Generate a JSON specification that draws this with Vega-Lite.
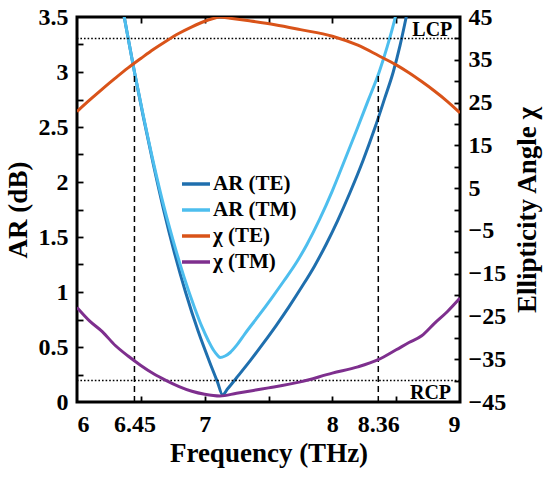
{
  "$schema": "https://vega.github.io/schema/vega-lite/v6.json",
  "width": 383,
  "height": 385,
  "autosize": {"type": "none"},
  "padding": {"left": 77, "top": 17, "right": 90, "bottom": 77},
  "background": "white",
  "config": {
    "view": {"stroke": "black", "strokeWidth": 3},
    "font": "Liberation Serif",
    "axis": {
      "domain": false, "grid": false,
      "labelFont": "Liberation Serif", "labelFontSize": 24, "labelFontWeight": "bold", "labelColor": "black",
      "titleFont": "Liberation Serif", "titleFontSize": 27, "titleFontWeight": "bold", "titleColor": "black",
      "tickColor": "black", "tickWidth": 1.8
    },
    "legend": {
      "orient": "none", "legendX": 103, "legendY": 151, "padding": 0,
      "symbolType": "stroke", "symbolStrokeWidth": 3.5, "symbolSize": 784,
      "labelFont": "Liberation Serif", "labelFontSize": 21, "labelFontWeight": "bold", "labelColor": "black",
      "rowPadding": 0, "labelOffset": 1
    }
  },
  "datasets": {
    "ar": [
      {"f": 6.33, "v": 3.75, "s": "AR (TE)"}, {"f": 6.37, "v": 3.5, "s": "AR (TE)"}, {"f": 6.45, "v": 3.0, "s": "AR (TE)"},
      {"f": 6.52, "v": 2.59, "s": "AR (TE)"}, {"f": 6.6, "v": 2.15, "s": "AR (TE)"}, {"f": 6.68, "v": 1.74, "s": "AR (TE)"},
      {"f": 6.76, "v": 1.37, "s": "AR (TE)"}, {"f": 6.85, "v": 1.0, "s": "AR (TE)"}, {"f": 6.95, "v": 0.64, "s": "AR (TE)"},
      {"f": 7.05, "v": 0.33, "s": "AR (TE)"}, {"f": 7.1, "v": 0.183, "s": "AR (TE)"}, {"f": 7.14, "v": 0.065, "s": "AR (TE)"},
      {"f": 7.18, "v": 0.12, "s": "AR (TE)"}, {"f": 7.25, "v": 0.22, "s": "AR (TE)"}, {"f": 7.36, "v": 0.38, "s": "AR (TE)"},
      {"f": 7.46, "v": 0.535, "s": "AR (TE)"}, {"f": 7.56, "v": 0.695, "s": "AR (TE)"}, {"f": 7.66, "v": 0.865, "s": "AR (TE)"},
      {"f": 7.76, "v": 1.045, "s": "AR (TE)"}, {"f": 7.86, "v": 1.235, "s": "AR (TE)"}, {"f": 7.95, "v": 1.43, "s": "AR (TE)"},
      {"f": 8.04, "v": 1.645, "s": "AR (TE)"}, {"f": 8.137, "v": 1.9, "s": "AR (TE)"}, {"f": 8.242, "v": 2.2, "s": "AR (TE)"},
      {"f": 8.333, "v": 2.49, "s": "AR (TE)"}, {"f": 8.41, "v": 2.76, "s": "AR (TE)"}, {"f": 8.477, "v": 3.0, "s": "AR (TE)"},
      {"f": 8.53, "v": 3.24, "s": "AR (TE)"}, {"f": 8.575, "v": 3.48, "s": "AR (TE)"}, {"f": 8.63, "v": 3.8, "s": "AR (TE)"},
      {"f": 6.33, "v": 3.75, "s": "AR (TM)"}, {"f": 6.37, "v": 3.5, "s": "AR (TM)"}, {"f": 6.45, "v": 3.0, "s": "AR (TM)"},
      {"f": 6.52, "v": 2.6, "s": "AR (TM)"}, {"f": 6.6, "v": 2.17, "s": "AR (TM)"}, {"f": 6.68, "v": 1.78, "s": "AR (TM)"},
      {"f": 6.76, "v": 1.44, "s": "AR (TM)"}, {"f": 6.84, "v": 1.13, "s": "AR (TM)"}, {"f": 6.92, "v": 0.86, "s": "AR (TM)"},
      {"f": 6.98, "v": 0.68, "s": "AR (TM)"}, {"f": 7.03, "v": 0.555, "s": "AR (TM)"}, {"f": 7.07, "v": 0.47, "s": "AR (TM)"},
      {"f": 7.1, "v": 0.425, "s": "AR (TM)"}, {"f": 7.12, "v": 0.405, "s": "AR (TM)"}, {"f": 7.16, "v": 0.418, "s": "AR (TM)"},
      {"f": 7.2, "v": 0.45, "s": "AR (TM)"}, {"f": 7.25, "v": 0.515, "s": "AR (TM)"}, {"f": 7.315, "v": 0.62, "s": "AR (TM)"},
      {"f": 7.42, "v": 0.78, "s": "AR (TM)"}, {"f": 7.525, "v": 0.945, "s": "AR (TM)"}, {"f": 7.62, "v": 1.1, "s": "AR (TM)"},
      {"f": 7.72, "v": 1.27, "s": "AR (TM)"}, {"f": 7.8, "v": 1.43, "s": "AR (TM)"}, {"f": 7.9, "v": 1.66, "s": "AR (TM)"},
      {"f": 8.0, "v": 1.92, "s": "AR (TM)"}, {"f": 8.07, "v": 2.12, "s": "AR (TM)"}, {"f": 8.19, "v": 2.47, "s": "AR (TM)"},
      {"f": 8.28, "v": 2.74, "s": "AR (TM)"}, {"f": 8.367, "v": 3.0, "s": "AR (TM)"}, {"f": 8.43, "v": 3.23, "s": "AR (TM)"},
      {"f": 8.485, "v": 3.46, "s": "AR (TM)"}, {"f": 8.55, "v": 3.8, "s": "AR (TM)"}
    ],
    "chi": [
      {"f": 6.0, "v": 22.9, "s": "χ (TE)"}, {"f": 6.1, "v": 25.6, "s": "χ (TE)"}, {"f": 6.2, "v": 28.2, "s": "χ (TE)"},
      {"f": 6.3, "v": 30.7, "s": "χ (TE)"}, {"f": 6.4, "v": 33.1, "s": "χ (TE)"}, {"f": 6.5, "v": 35.3, "s": "χ (TE)"},
      {"f": 6.6, "v": 37.45, "s": "χ (TE)"}, {"f": 6.7, "v": 39.4, "s": "χ (TE)"}, {"f": 6.8, "v": 41.2, "s": "χ (TE)"},
      {"f": 6.9, "v": 42.7, "s": "χ (TE)"}, {"f": 7.0, "v": 44.0, "s": "χ (TE)"}, {"f": 7.06, "v": 44.6, "s": "χ (TE)"},
      {"f": 7.12, "v": 45.0, "s": "χ (TE)"}, {"f": 7.2, "v": 44.7, "s": "χ (TE)"}, {"f": 7.35, "v": 44.1, "s": "χ (TE)"},
      {"f": 7.55, "v": 43.2, "s": "χ (TE)"}, {"f": 7.75, "v": 42.05, "s": "χ (TE)"}, {"f": 8.0, "v": 40.5, "s": "χ (TE)"},
      {"f": 8.2, "v": 38.4, "s": "χ (TE)"}, {"f": 8.36, "v": 36.0, "s": "χ (TE)"}, {"f": 8.5, "v": 33.8, "s": "χ (TE)"},
      {"f": 8.6, "v": 31.96, "s": "χ (TE)"}, {"f": 8.7, "v": 29.9, "s": "χ (TE)"}, {"f": 8.8, "v": 27.7, "s": "χ (TE)"},
      {"f": 8.9, "v": 25.3, "s": "χ (TE)"}, {"f": 9.0, "v": 22.6, "s": "χ (TE)"},
      {"f": 6.0, "v": -22.9, "s": "χ (TM)"}, {"f": 6.1, "v": -26.1, "s": "χ (TM)"}, {"f": 6.2, "v": -28.6, "s": "χ (TM)"},
      {"f": 6.3, "v": -31.8, "s": "χ (TM)"}, {"f": 6.4, "v": -34.25, "s": "χ (TM)"}, {"f": 6.5, "v": -36.45, "s": "χ (TM)"},
      {"f": 6.6, "v": -38.4, "s": "χ (TM)"}, {"f": 6.7, "v": -40.0, "s": "χ (TM)"}, {"f": 6.8, "v": -41.4, "s": "χ (TM)"},
      {"f": 6.9, "v": -42.5, "s": "χ (TM)"}, {"f": 7.0, "v": -43.2, "s": "χ (TM)"}, {"f": 7.12, "v": -43.6, "s": "χ (TM)"},
      {"f": 7.25, "v": -42.95, "s": "χ (TM)"}, {"f": 7.4, "v": -42.2, "s": "χ (TM)"}, {"f": 7.5, "v": -41.7, "s": "χ (TM)"},
      {"f": 7.75, "v": -40.3, "s": "χ (TM)"}, {"f": 8.0, "v": -38.25, "s": "χ (TM)"}, {"f": 8.2, "v": -36.8, "s": "χ (TM)"},
      {"f": 8.36, "v": -35.1, "s": "χ (TM)"}, {"f": 8.5, "v": -32.8, "s": "χ (TM)"}, {"f": 8.6, "v": -31.1, "s": "χ (TM)"},
      {"f": 8.7, "v": -29.5, "s": "χ (TM)"}, {"f": 8.8, "v": -26.6, "s": "χ (TM)"}, {"f": 8.9, "v": -23.9, "s": "χ (TM)"},
      {"f": 9.0, "v": -20.7, "s": "χ (TM)"}
    ],
    "vlines": [{"f": 6.45}, {"f": 8.36}],
    "hdots": [{"v": 3.3056}, {"v": 0.1944}],
    "ann": [{"f": 8.94, "v": 3.33, "label": "LCP"}, {"f": 8.93, "v": 0.03, "label": "RCP"}]
  },
  "layer": [
    {
      "layer": [
        {
          "data": {"name": "ar"},
          "mark": {"type": "line", "strokeWidth": 3, "clip": true, "interpolate": "monotone"},
          "encoding": {
            "x": {"field": "f", "type": "quantitative", "scale": {"domain": [6, 9], "nice": false, "zero": false},
                  "axis": {"orient": "bottom", "values": [6, 6.45, 7, 8, 8.36, 9], "ticks": false, "labelExpr": "toString(datum.value)", "labelPadding": 10, "title": "Frequency (THz)", "titlePadding": 4}},
            "y": {"field": "v", "type": "quantitative", "scale": {"domain": [0, 3.5], "nice": false},
                  "axis": {"orient": "left", "values": [0, 0.5, 1, 1.5, 2, 2.5, 3, 3.5], "ticks": false, "labelExpr": "toString(datum.value)", "labelPadding": 9, "title": "AR (dB)", "titlePadding": 6}},
            "color": {"field": "s", "type": "nominal",
                      "scale": {"domain": ["AR (TE)", "AR (TM)", "χ (TE)", "χ (TM)"], "range": ["#1f6fae", "#4dbeee", "#d95319", "#7e2f8e"]},
                      "legend": {"title": null}}
          }
        },
        {
          "mark": {"type": "rule", "strokeDash": [7, 5], "strokeWidth": 1.5, "color": "black"},
          "encoding": {"y": {"datum": 3, "type": "quantitative"}}
        },
        {
          "data": {"name": "hdots"},
          "mark": {"type": "rule", "strokeDash": [1.6, 2], "strokeWidth": 1.5, "color": "black"},
          "encoding": {"y": {"field": "v", "type": "quantitative"}}
        },
        {
          "data": {"name": "vlines"},
          "mark": {"type": "rule", "strokeDash": [6, 4], "strokeWidth": 1.5, "color": "black"},
          "encoding": {
            "x": {"field": "f", "type": "quantitative"},
            "y": {"datum": 0, "type": "quantitative"},
            "y2": {"datum": 3}
          }
        },
        {
          "data": {"name": "ann"},
          "mark": {"type": "text", "align": "right", "baseline": "alphabetic", "fontSize": 20, "fontWeight": "bold", "font": "Liberation Serif", "color": "black"},
          "encoding": {
            "x": {"field": "f", "type": "quantitative"},
            "y": {"field": "v", "type": "quantitative"},
            "text": {"field": "label"}
          }
        }
      ]
    },
    {
      "data": {"name": "chi"},
      "mark": {"type": "line", "strokeWidth": 3, "clip": true, "interpolate": "monotone"},
      "encoding": {
        "x": {"field": "f", "type": "quantitative", "scale": {"domain": [6, 9], "nice": false, "zero": false}, "axis": null},
        "y": {"field": "v", "type": "quantitative", "scale": {"domain": [-45, 45], "nice": false},
              "axis": {"orient": "right", "values": [-45, -35, -25, -15, -5, 5, 15, 25, 35, 45], "ticks": false, "labelExpr": "replace(toString(datum.value), '-', '−')", "labelPadding": 8, "title": "Ellipticity Angle χ", "titleAngle": 270, "titlePadding": 36}},
        "color": {"field": "s", "type": "nominal",
                  "scale": {"domain": ["AR (TE)", "AR (TM)", "χ (TE)", "χ (TM)"], "range": ["#1f6fae", "#4dbeee", "#d95319", "#7e2f8e"]},
                  "legend": {"title": null}}
      }
    },
    {
      "data": {"name": "ar"},
      "mark": {"type": "line", "opacity": 0},
      "encoding": {
        "x": {"field": "f", "type": "quantitative", "scale": {"domain": [6, 9], "nice": false, "zero": false},
              "axis": {"orient": "bottom", "values": [6.5, 7, 7.5, 8, 8.5], "labels": false, "tickSize": -6, "title": null}},
        "y": {"field": "v", "type": "quantitative", "scale": {"domain": [0, 3.5], "nice": false},
              "axis": {"orient": "left", "values": [0.25, 0.5, 0.75, 1, 1.25, 1.5, 1.75, 2, 2.25, 2.5, 2.75, 3, 3.25], "labels": false, "tickSize": -6, "title": null}}
      }
    },
    {
      "data": {"name": "chi"},
      "mark": {"type": "line", "opacity": 0},
      "encoding": {
        "x": {"field": "f", "type": "quantitative", "scale": {"domain": [6, 9], "nice": false, "zero": false},
              "axis": {"orient": "top", "values": [6.5, 7, 7.5, 8, 8.5], "labels": false, "tickSize": -6, "title": null}},
        "y": {"field": "v", "type": "quantitative", "scale": {"domain": [-45, 45], "nice": false},
              "axis": {"orient": "right", "values": [-40, -35, -30, -25, -20, -15, -10, -5, 0, 5, 10, 15, 20, 25, 30, 35, 40], "labels": false, "tickSize": -6, "title": null}}
      }
    }
  ],
  "resolve": {"scale": {"y": "independent"}, "axis": {"x": "independent", "y": "independent"}}
}
